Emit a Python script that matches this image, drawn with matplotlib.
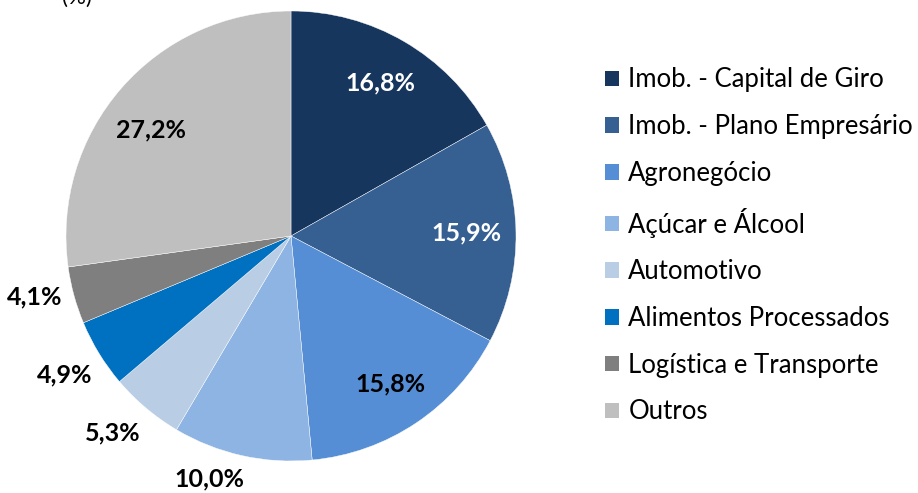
import matplotlib
matplotlib.use("Agg")
import matplotlib.pyplot as plt
from matplotlib.patches import Rectangle
import numpy as np

# sector shares (%)
sectors = ["Imob. - Capital de Giro", "Imob. - Plano Empresário", "Agronegócio",
           "Açúcar e Álcool", "Automotivo", "Alimentos Processados",
           "Logística e Transporte", "Outros"]
shares = [16.8, 15.9, 15.8, 10.0, 5.3, 4.9, 4.1, 27.2]
colors = ["#17365D", "#376092", "#558ED5", "#8EB4E3",
          "#B9CDE5", "#0070C0", "#7F7F7F", "#BFBFBF"]
label_colors = ["white", "white", "black", "black", "black", "black", "black", "black"]
label_dist = [0.79, 0.78, 0.79, 1.14, 1.18, 1.18, 1.17, 0.78]
label_nudge = [0, 0, 0, -6, -2, 0, -2, 4]   # degrees

plt.rcParams["font.family"] = ["Lato", "DejaVu Sans"]

fig = plt.figure(figsize=(9.18, 4.93), dpi=100)
cx, cy, r = 291, 236, 225
ax = fig.add_axes([(cx - r) / 918, (493 - cy - r) / 493, 2 * r / 918, 2 * r / 493])

wedges, _ = ax.pie(shares, colors=colors, startangle=90, counterclock=False,
                   radius=1, wedgeprops=dict(edgecolor="white", linewidth=0.3))
ax.set_xlim(-1, 1)
ax.set_ylim(-1, 1)
ax.set_aspect("equal")
ax.axis("off")

for w, v, c, d, n in zip(wedges, shares, label_colors, label_dist, label_nudge):
    ang = np.deg2rad((w.theta1 + w.theta2) / 2 + n)
    txt = f"{v:.1f}%".replace(".", ",")
    ax.text(d * np.cos(ang), d * np.sin(ang), txt, ha="center", va="center",
            fontsize=18, fontweight="bold", color=c, clip_on=False)

# axis unit caption, cut off at the top edge as in the source
fig.text(0.084, 1 - 8 / 493, "(%)", ha="center", va="bottom", fontsize=16)

handles = [Rectangle((0, 0), 1, 1, facecolor=c) for c in colors]
fig.legend(handles, sectors, loc="upper left", bbox_to_anchor=(0.648, 0.884),
           frameon=False, fontsize=18.5, handlelength=0.55, handleheight=0.55,
           handletextpad=0.35, labelspacing=0.845, borderaxespad=0)

fig.savefig("out.png", dpi=100)
